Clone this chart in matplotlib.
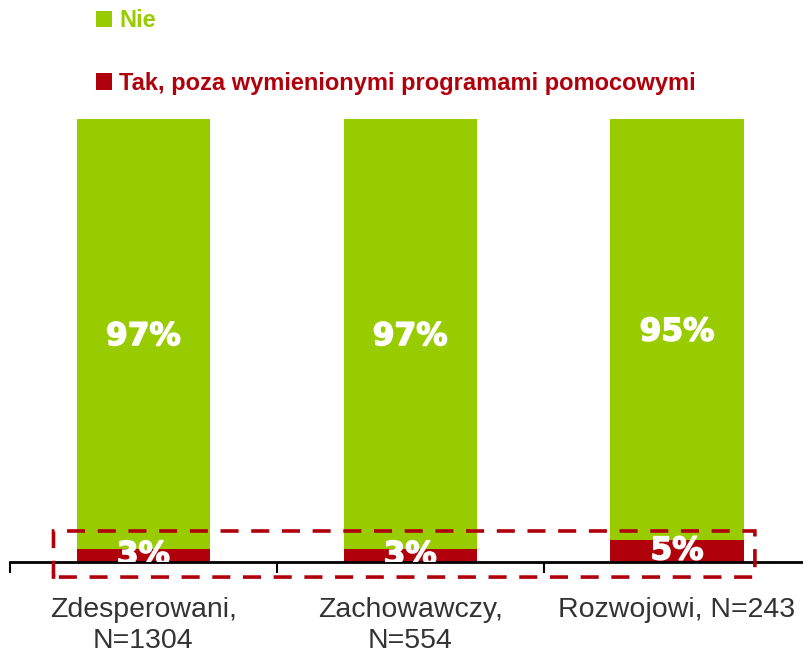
import matplotlib
matplotlib.use("Agg")
import matplotlib.pyplot as plt
import matplotlib.patheffects as pe
from matplotlib.patches import FancyBboxPatch
from matplotlib.ticker import FixedLocator, NullFormatter

categories = ["Zdesperowani,\nN=1304", "Zachowawczy,\nN=554", "Rozwojowi, N=243"]
tak = [3, 3, 5]
nie = [97, 97, 95]
series_labels = ["Tak, poza wymienionymi programami pomocowymi", "Nie"]

GREEN = "#99CC00"
RED = "#B0000B"

fig = plt.figure(figsize=(8.04, 6.55), dpi=100)
W, H = 804, 655
ax = fig.add_axes([10 / W, (H - 562) / H, (804 - 10) / W, (562 - 119) / H])

x = list(range(len(categories)))
b_tak = ax.bar(x, tak, width=0.5, color=RED, zorder=2)
b_nie = ax.bar(x, nie, width=0.5, bottom=tak, color=GREEN, zorder=2)

heavy = [pe.withStroke(linewidth=1.1, foreground="white")]
for xi, t, n in zip(x, tak, nie):
    ax.text(xi, t / 2, f"{t}%", ha="center", va="center", color="white",
            fontsize=22.5, fontweight="bold", family="DejaVu Sans", zorder=3,
            clip_on=True, path_effects=heavy)
    ax.text(xi, t + n / 2 - 0.6, f"{n}%", ha="center", va="center", color="white",
            fontsize=22.5, fontweight="bold", family="DejaVu Sans", zorder=3,
            path_effects=heavy)

ax.set_xlim(-0.5, 2.476)
ax.set_ylim(0, 100)
for s in ["top", "right", "left"]:
    ax.spines[s].set_visible(False)
ax.spines["bottom"].set_linewidth(2)
ax.spines["bottom"].set_color("black")
ax.set_yticks([])

# group separators as major ticks, category names on minor ticks
ax.xaxis.set_major_locator(FixedLocator([-0.5, 0.5, 1.5, 2.5]))
ax.xaxis.set_major_formatter(NullFormatter())
ax.xaxis.set_minor_locator(FixedLocator(x))
ax.set_xticklabels(categories, minor=True)
ax.tick_params(axis="x", which="major", direction="out", length=8, width=1.5,
               color="black")
ax.tick_params(axis="x", which="minor", length=0, pad=25, labelsize=20.5,
               labelcolor="#333333")
for lbl in ax.get_xticklabels(minor=True):
    lbl.set_family("Liberation Sans")
    lbl.set_linespacing(1.25)

# dashed frame around the "Tak" segments
frame = FancyBboxPatch((-0.337, -3.4), 2.292 + 0.337, 7.0 + 3.4,
                       boxstyle="round,pad=0,rounding_size=0.02",
                       fill=False, edgecolor=RED, linewidth=2.6,
                       linestyle=(0, (5, 3.5)), clip_on=False, zorder=4,
                       mutation_aspect=4.43 / 267)
ax.add_patch(frame)

leg = fig.legend([b_nie, b_tak], [series_labels[1], series_labels[0]],
                 loc="upper left", bbox_to_anchor=(96 / W, 1 - 9 / H),
                 frameon=False, borderpad=0, borderaxespad=0,
                 handlelength=0.68, handleheight=0.68,
                 handletextpad=0.3, labelspacing=1.68,
                 prop={"family": "Liberation Sans", "weight": "bold", "size": 17})
for txt, c in zip(leg.get_texts(), [GREEN, RED]):
    txt.set_color(c)

fig.savefig("out.png", dpi=100)
